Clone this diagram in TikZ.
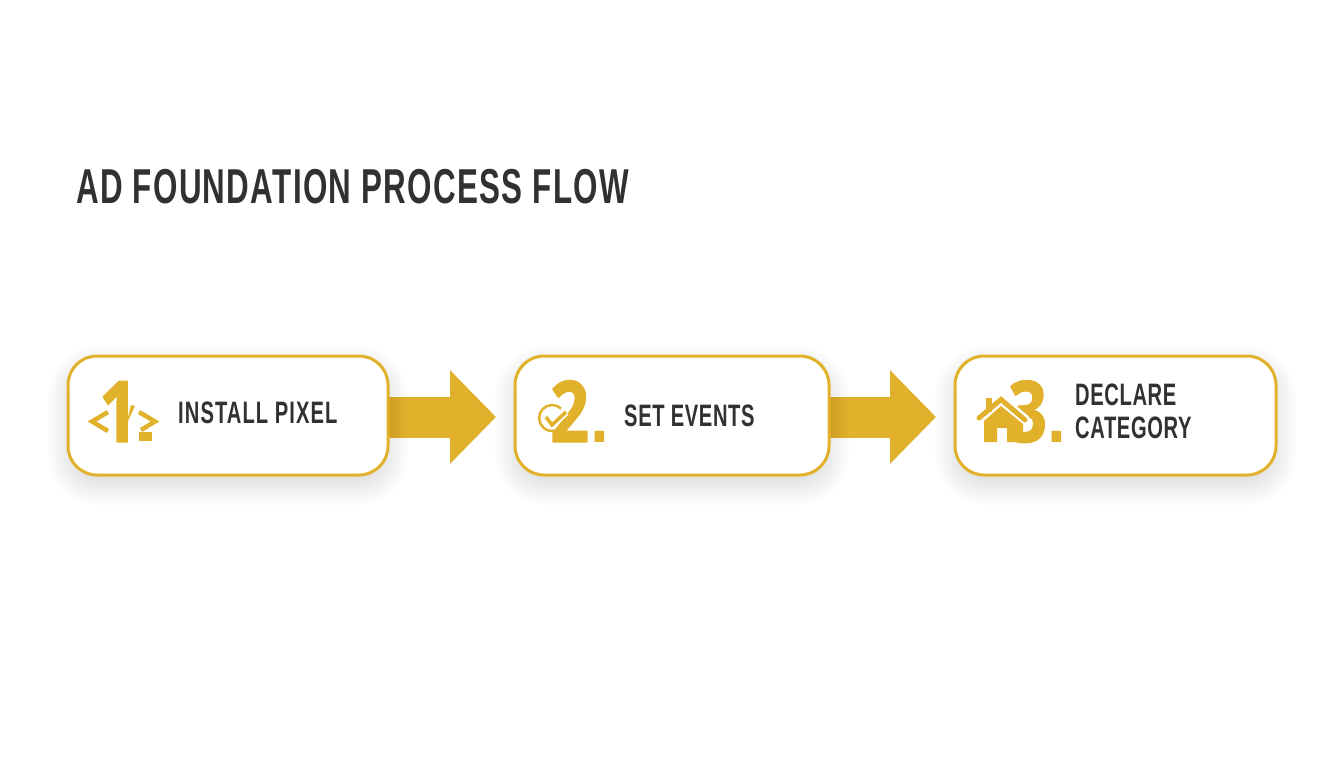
\documentclass[tikz,border=0pt]{standalone}
\usepackage{fontspec}
\usetikzlibrary{arrows.meta,backgrounds}
\newfontfamily\titlefont[FakeStretch=0.64,LetterSpace=2.7]{Liberation Sans}
\newfontfamily\labelfont[FakeStretch=0.65,LetterSpace=2]{Liberation Sans}
\newfontfamily\digitfont[FakeStretch=0.8,FakeBold=1.5]{Open Sans}
\newfontfamily\pointfont[FakeStretch=0.9]{Liberation Sans}
\definecolor{gold}{HTML}{E2B12C}
\definecolor{inkdark}{HTML}{333031}
\tikzset{
	stepbox/.style={draw=gold, line width=3pt, fill=white, rounded corners=29pt, outer sep=0pt, inner sep=0pt, minimum height=119pt},
	steplabel/.style={anchor=base west, inner sep=0pt, text=inkdark, align=left, font=\labelfont\bfseries\fontsize{31}{33}\selectfont},
	stepnum/.style={anchor=base west, inner sep=0pt, text=gold, font=\digitfont\bfseries\fontsize{85}{85}\selectfont},
	steppoint/.style={anchor=base west, inner sep=0pt, text=gold, font=\pointfont\bfseries\fontsize{75}{75}\selectfont},
	flowarrow/.style={draw=gold, line width=41pt, -{Triangle[length=46pt,width=91pt]}, shorten >=19pt},
	iconline/.style={draw=gold, line width=4.5pt, line cap=butt, line join=miter},
	halo/.style={draw=white, line width=9pt, line cap=butt}
}
\begin{document}
\begin{tikzpicture}[x=1pt, y=-1pt, line join=round]
	\useasboundingbox (0,0) rectangle (1344,768);
	\node[anchor=base west, inner sep=0pt, text=inkdark, font=\titlefont\bfseries\fontsize{49}{49}\selectfont] (title) at (76,203) {AD FOUNDATION PROCESS FLOW};

	\node[stepbox, minimum width=320pt] (box1) at (228,415.5) {};
	\node[stepbox, minimum width=314pt] (box2) at (672,415.5) {};
	\node[stepbox, minimum width=321pt] (box3) at (1115.5,415.5) {};

	\begin{scope}[on background layer]
		\draw[flowarrow] ([yshift=-1.5pt]box1.east) -- ([yshift=-1.5pt]box2.west);
		\draw[flowarrow] ([yshift=-1.5pt]box2.east) -- ([yshift=-1.5pt]box3.west);
		\foreach \bx in {box1,box2,box3}
		\foreach \g in {-12,-10,...,20}
		\fill[black, opacity=0.0065, rounded corners={(30+\g)*1pt}] ([shift={(-\g,10-\g)}]\bx.north west) rectangle ([shift={(\g,10+\g)}]\bx.south east);
	\end{scope}

	\node[stepnum] (num1) at (99,442) {1};
	\draw[iconline] (108,412) -- (92,421.5) -- (108,431);
	\draw[iconline] (139,412) -- (155,421.5) -- (141,430);
	\fill[gold] (139,432) rectangle (152,441);
	\fill[gold] (131,405) -- (135,406) -- (128,421) -- (127,421) -- cycle;

	\node[stepnum] (num2) at (550,442) {2};
	\node[steppoint] (dot2) at (590,442) {.};
	\draw[gold, line width=2.5pt] (561,408.5) arc (-47:-340:13);
	\draw[halo, line width=7pt] (546,417) -- (552,425) -- (566,412);
	\draw[gold, line width=3.5pt, line join=miter] (546,417) -- (552,425) -- (566,412);

	\node[stepnum] (num3) at (1008,442) {3};
	\node[steppoint] (dot3) at (1047,442) {.};
	\draw[halo, line join=miter] (978,418) -- (1001,399) -- (1026,420);
	\fill[gold] (986,398) rectangle (992,412);
	\fill[gold, even odd rule] (984,421) -- (1001,406) -- (1023,424) -- (1023,442) -- (1007,442) -- (1007,428) -- (997,428) -- (997,442) -- (984,442) -- cycle;
	\draw[gold, line width=5pt, line cap=round, line join=miter] (979,418) -- (1001,399.5) -- (1025,420);

	\node[steplabel] (lab1) at (178,423) {\addfontfeature{LetterSpace=3.5}INSTALL PIXEL};
	\node[steplabel] (lab2) at (624,426.5) {SET EVENTS};
	\node[steplabel, anchor=north west] (lab3) at (1075,384) {DECLARE\\CATEGORY};
\end{tikzpicture}
\end{document}
